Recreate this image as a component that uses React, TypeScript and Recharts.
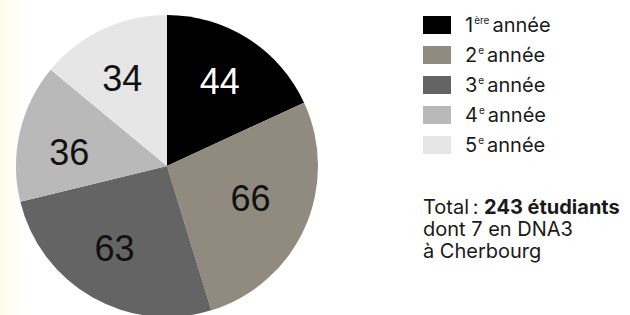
import React from 'react';
import { PieChart, Pie, Cell } from 'recharts';

const years = ['1ère année', '2e année', '3e année', '4e année', '5e année'];
const students = [44, 66, 63, 36, 34];
const colors = ['#000000', '#918a7e', '#646464', '#b9b9b9', '#e6e6e6'];
const labelColors = ['#ffffff', '#111111', '#111111', '#111111', '#111111'];
const sup = ['ère', 'e', 'e', 'e', 'e'];
const totalLines = ['Total', '243 étudiants', 'dont 7 en DNA3', 'à Cherbourg'];

const data = years.map((name, i) => ({ name, value: students[i] }));

// small hand nudges so labels sit where the original placed them
const nudgeX = [0, -6, -4, -2, -3];
const nudgeY = [-2, -8, -3, 9, 1];

const RAD = Math.PI / 180;

const renderLabel = (props: any) => {
  const { cx, cy, midAngle, outerRadius, value, index } = props;
  const r = outerRadius * 0.65;
  const x = cx + r * Math.cos(-midAngle * RAD) + nudgeX[index];
  const y = cy + r * Math.sin(-midAngle * RAD) + nudgeY[index];
  return (
    <text
      x={x}
      y={y}
      fill={labelColors[index]}
      textAnchor="middle"
      dominantBaseline="central"
      fontSize={36}
      fontFamily="'Liberation Sans', Arial, sans-serif"
    >
      {value}
    </text>
  );
};

const textFont = "Inter, 'Noto Sans', sans-serif";

const LegendBox = () => (
  <div style={{ position: 'absolute', left: 423, top: 10, width: 207, fontFamily: textFont, color: '#1a1a1a' }}>
    {years.map((y, i) => (
      <div key={y} style={{ display: 'flex', alignItems: 'center', height: 30 }}>
        <span style={{ width: 28, height: 18, background: colors[i], display: 'inline-block' }} />
        <span style={{ marginLeft: 14, fontSize: 20, lineHeight: '20px', whiteSpace: 'nowrap' }}>
          {i + 1}
          <sup style={{ fontSize: 10, verticalAlign: 'top', lineHeight: '10px', marginLeft: 1, marginRight: 3 }}>{sup[i]}</sup>
          {y.split(' ')[1]}
        </span>
      </div>
    ))}
  </div>
);

const TotalBox = () => (
  <div style={{ position: 'absolute', left: 423, top: 196, width: 207, fontFamily: textFont, color: '#1a1a1a', fontSize: 20, lineHeight: '22px', whiteSpace: 'nowrap' }}>
    <div>
      {totalLines[0]}{'\u202F'}: <b>{totalLines[1]}</b>
    </div>
    <div>{totalLines[2]}</div>
    <div>{totalLines[3]}</div>
  </div>
);

export default function App() {
  return (
    <div
      style={{
        position: 'fixed',
        left: 0,
        top: 0,
        width: 630,
        height: 315,
        background: 'linear-gradient(to right, #fffbe8 0px, #ffffff 26px)',
      }}
    >
      <PieChart width={630} height={315} margin={{ top: 0, right: 0, bottom: 0, left: 0 }}>
        <Pie
          data={data}
          dataKey="value"
          nameKey="name"
          cx={167}
          cy={166}
          outerRadius={151}
          startAngle={90}
          endAngle={-270}
          stroke="none"
          label={renderLabel}
          labelLine={false}
          isAnimationActive={false}
        >
          {data.map((d, i) => (
            <Cell key={d.name} fill={colors[i]} />
          ))}
        </Pie>
      </PieChart>
      <LegendBox />
      <TotalBox />
    </div>
  );
}
